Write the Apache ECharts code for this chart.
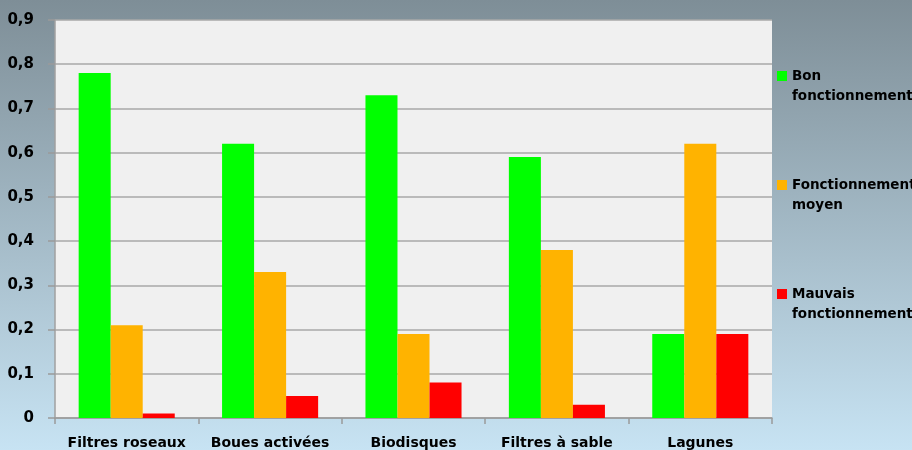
<!DOCTYPE html>
<html>
<head>
<meta charset="utf-8">
<script src="https://cdn.jsdelivr.net/npm/echarts@6/dist/echarts.min.js"></script>
<style>
html,body{margin:0;padding:0;}
#c{width:912px;height:450px;}
</style>
</head>
<body>
<div id="c"></div>
<script>
var categories = ['Filtres roseaux', 'Boues activées', 'Biodisques', 'Filtres à sable', 'Lagunes'];
var seriesNames = ['Bon\nfonctionnement', 'Fonctionnement\nmoyen', 'Mauvais\nfonctionnement'];
var bon = [0.78, 0.62, 0.73, 0.59, 0.19];
var moyen = [0.21, 0.33, 0.19, 0.38, 0.62];
var mauvais = [0.01, 0.05, 0.08, 0.03, 0.19];
var colors = ['#00ff00', '#ffb300', '#ff0000'];

var chart = echarts.init(document.getElementById('c'));
var font = '"DejaVu Sans", sans-serif';
function mk(name, data, color) {
  return {
    name: name, type: 'bar', data: data, barGap: '0%', barCategoryGap: '33%',
    itemStyle: { color: color }, emphasis: { disabled: true }
  };
}
chart.setOption({
  backgroundColor: {
    type: 'linear', x: 0, y: 0, x2: 0, y2: 1,
    colorStops: [{ offset: 0, color: '#7e8e97' }, { offset: 1, color: '#c7e3f3' }]
  },
  animation: false,
  grid: { left: 55, right: 140, top: 20, bottom: 30, show: true, backgroundColor: '#f0f0f0', borderWidth: 0, borderColor: 'transparent' },
  legend: {
    orient: 'vertical', left: 777, top: 46, itemWidth: 10, itemHeight: 10, itemGap: 49,
    padding: 0, icon: 'rect',
    data: seriesNames,
    formatter: function (name) { return '\n' + name; },
    textStyle: { fontFamily: font, fontWeight: 'bold', fontSize: 13.5, color: '#000', lineHeight: 20 }
  },
  xAxis: {
    type: 'category', data: categories,
    axisLine: { lineStyle: { color: '#9a9a9a', width: 1.5 } },
    axisTick: { show: true, length: 6, lineStyle: { color: '#9a9a9a', width: 1.5 } },
    axisLabel: { interval: 0, fontFamily: font, fontWeight: 'bold', fontSize: 14, color: '#000', margin: 18 }
  },
  yAxis: {
    type: 'value', min: 0, max: 0.9, interval: 0.1,
    axisLine: { show: true, lineStyle: { color: '#a0a0a0', width: 1.5 } },
    axisTick: { show: true, length: 7, lineStyle: { color: '#9a9a9a', width: 1.5 } },
    splitLine: { lineStyle: { color: '#a8a8a8', width: 1.5 } },
    axisLabel: {
      fontFamily: font, fontWeight: 'bold', fontSize: 15, color: '#000', margin: 21,
      formatter: function (v) { return v === 0 ? '0' : v.toFixed(1).replace('.', ','); }
    }
  },
  series: [mk(seriesNames[0], bon, colors[0]), mk(seriesNames[1], moyen, colors[1]), mk(seriesNames[2], mauvais, colors[2])]
});
</script>
</body>
</html>
